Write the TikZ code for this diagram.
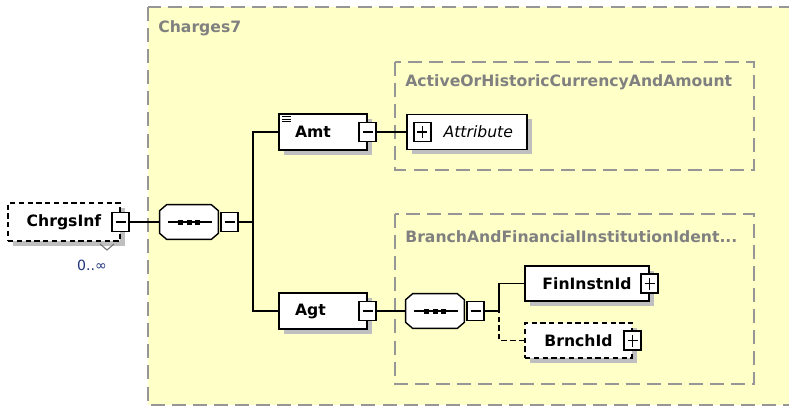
\documentclass[tikz,border=0pt]{standalone}
\usepackage{fontspec}
\setmainfont{DejaVu Sans}
\usetikzlibrary{shadows,positioning}
\definecolor{grpfill}{RGB}{255,255,200}
\definecolor{grpline}{RGB}{150,150,150}
\definecolor{grptext}{RGB}{128,128,128}
\definecolor{occtext}{RGB}{30,50,120}
\newcommand\elemfont{\fontsize{8.9}{10}\selectfont\bfseries}
\newcommand\attrfont{\fontsize{8.9}{10}\selectfont\itshape}
\newcommand\octpath[1]{([xshift=0.14cm]#1.north west) -- ([xshift=-0.14cm]#1.north east)
  -- ([yshift=-0.12cm]#1.north east) -- ([yshift=0.12cm]#1.south east)
  -- ([xshift=-0.14cm]#1.south east) -- ([xshift=0.14cm]#1.south west)
  -- ([yshift=0.12cm]#1.south west) -- ([yshift=-0.12cm]#1.north west) -- cycle}

\begin{document}
\begin{tikzpicture}[x=0.02cm,y=-0.02cm,
  grp/.style={draw=grpline,fill=grpfill,line width=1.1pt,dash pattern=on 8pt off 4pt},
  grplbl/.style={anchor=west,inner sep=0pt,text=grptext,font=\elemfont},
  elem/.style={draw,line width=0.8pt,fill=white,inner sep=0pt,minimum height=0.72cm,
    font=\elemfont,
    drop shadow={shadow xshift=2.8pt,shadow yshift=-2.8pt,fill=black!25,opacity=1}},
  optelem/.style={elem,dash pattern=on 3pt off 2pt},
  leftlbl/.style={text width=1.12cm,inner xsep=0.32cm,align=left},
  seq/.style={inner sep=0pt,minimum width=1.16cm,minimum height=0.68cm},
  minusbox/.style={draw,line width=0.8pt,fill=white,inner sep=0pt,
    minimum width=0.34cm,minimum height=0.38cm,
    path picture={\draw[line width=0.7pt]
      ([xshift=0.07cm]path picture bounding box.west) --
      ([xshift=-0.07cm]path picture bounding box.east);}},
  plusbox/.style={minusbox,
    path picture={\draw[line width=0.7pt]
      ([xshift=0.07cm]path picture bounding box.west) --
      ([xshift=-0.07cm]path picture bounding box.east)
      ([yshift=-0.07cm]path picture bounding box.north) --
      ([yshift=0.07cm]path picture bounding box.south);}},
  conn/.style={line width=0.8pt}
]
\clip (0,0) rectangle (789,407);

\draw[grp] (148,7) rectangle (800,405);
\draw[grp] (395,62) rectangle (754,170);
\draw[grp] (395,214) rectangle (754,384);
\node[grplbl] (charges-lbl) at (158,28) {Charges7};
\node[grplbl] (amount-lbl) at (405,82) {ActiveOrHistoricCurrencyAndAmount};
\node[grplbl] (branch-lbl) at (405,237) {BranchAndFinancialInstitutionIdent...};

\node[optelem,minimum width=2.24cm,minimum height=0.76cm] (chrgsinf) at (64,222) {ChrgsInf};
\node[minusbox] (chrgsinf-m) at (chrgsinf.east) {};
\draw[black!55,line width=0.6pt] (100,244) -- (107,250) -- (114,244);
\node[font=\fontsize{8}{9}\selectfont,text=occtext] (chrgsinf-occ) at (92,265) {0..∞};

\node[seq] (seq1) at (189,222) {};
\coordinate (br1) at (253,222);

\node[elem,leftlbl] (amt) at (323,132) {Amt};
\node[minusbox] (amt-m) at (amt.east) {};
\foreach \d in {3.5,6,8.5}
  \draw[line width=0.6pt] ([shift={(4,\d)}]amt.north west) -- ([shift={(13,\d)}]amt.north west);
\node[elem,font=\attrfont,minimum width=2.4cm,minimum height=0.7cm,
      text width=1.84cm,inner xsep=0.28cm,align=right] (attr) at (467,132) {Attribute};
\node[plusbox] (attr-p) at ([xshift=0.32cm]attr.west) {};

\node[elem,leftlbl] (agt) at (323,311) {Agt};
\node[minusbox] (agt-m) at (agt.east) {};
\node[seq] (seq2) at (435,311) {};
\coordinate (br2) at (499,311);

\node[elem,minimum width=2.48cm,minimum height=0.7cm] (fin) at (587,283.5) {FinInstnId};
\node[plusbox] (fin-p) at (fin.east) {};
\node[optelem,minimum width=2.14cm,minimum height=0.7cm] (brn) at (578.5,340.5) {BrnchId};
\node[plusbox] (brn-p) at (brn.east) {};

% sequence compositors
\foreach \s in {seq1,seq2}{
  \fill[black!25,shift={(5,5)}] \octpath{\s};
  \draw[line width=0.8pt,fill=white] \octpath{\s};
  \draw[conn] ([xshift=-0.42cm]\s.center) -- ([xshift=0.46cm]\s.center);
  \foreach \dx in {-0.17,0,0.17}
    \fill ([shift={(\dx cm,0)}]\s.center) +(-0.05cm,-0.05cm) rectangle +(0.05cm,0.05cm);
}
\node[minusbox,right=0.04cm of seq1] (seq1-m) {};
\node[minusbox,right=0.04cm of seq2] (seq2-m) {};

\draw[conn] (chrgsinf-m) -- (seq1);
\draw[conn] (seq1-m) -- (br1);
\draw[conn] (amt.west) -| (br1);
\draw[conn] (agt.west) -| (br1);
\draw[conn] (amt-m) -- (attr);
\draw[conn] (agt-m) -- (seq2);
\draw[conn] (seq2-m) -- (br2);
\draw[conn] (fin.west) -| (br2);
\draw[conn,dash pattern=on 3pt off 2pt] (brn.west) -| (br2);
\end{tikzpicture}
\end{document}
